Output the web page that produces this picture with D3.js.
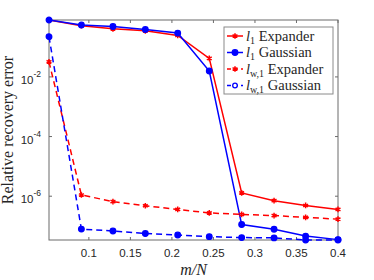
<!DOCTYPE html>
<html>
<head>
  <meta content="text/html;charset=utf-8" http-equiv="Content-Type">
  <title>Relative recovery error vs m/N</title>

  <style type="text/css">
    body { margin: 0; background: #fff; }
    #chart text { fill: #262626; }
    #chart .tick-label { font: 11.5px "Liberation Sans", Arial, sans-serif; }
    #chart .serif { font-family: "Liberation Serif", "Times New Roman", serif; }
  </style>

  <script src="https://cdnjs.cloudflare.com/ajax/libs/d3/7.6.1/d3.min.js"></script>
  <script>

    // m/N sample points
    var ratio = [0.052, 0.091, 0.129, 0.168, 0.207, 0.245, 0.284, 0.323, 0.361, 0.4];

    // relative recovery error for each method
    var l1Expander  = [0.81, 0.52, 0.41, 0.35, 0.245, 0.042, 1.29e-6, 7.1e-7, 4.9e-7, 3.6e-7];
    var l1Gaussian  = [0.81, 0.55, 0.49, 0.39, 0.295, 0.0158, 1.12e-7, 7.8e-8, 4.6e-8, 3.5e-8];
    var lw1Expander = [0.032, 1.1e-6, 6.6e-7, 4.8e-7, 3.6e-7, 2.75e-7, 2.45e-7, 2.24e-7, 1.95e-7, 1.7e-7];
    var lw1Gaussian = [0.224, 7.9e-8, 6.8e-8, 5.6e-8, 5.0e-8, 4.4e-8, 4.1e-8, 4.0e-8, 3.4e-8, 3.4e-8];

    var xTicks = [0.1, 0.15, 0.2, 0.25, 0.3, 0.35, 0.4];
    var yTicks = [1e-6, 1e-4, 1e-2];
    var yTickExp = ['-6', '-4', '-2'];

    var legendSub = ['1', '1', 'w,1', 'w,1'];
    var legendName = ['Expander', 'Gaussian', 'Expander', 'Gaussian'];

    var margin = {left: 49, top: 20, right: 36, bottom: 40};
    var tick_len = 3;

    function main() {

      var width = 374, height = 280;
      var w = width - margin.left - margin.right;
      var h = height - margin.top - margin.bottom;

      var allValues = l1Expander.concat(l1Gaussian, lw1Expander, lw1Gaussian);

      var x = d3.scaleLinear().
            domain([d3.min(ratio), d3.max(ratio)]).
            range([0, w]);

      var y = d3.scaleLog().
            domain([d3.min(allValues), d3.max(allValues)]).
            range([h, 0]);

      var svg = d3.select('#chart').
            attr('width', width).
            attr('height', height);

      var g = svg.append('g').
            attr('transform', 'translate(' + margin.left + ',' + margin.top + ')');

      // inward ticks on all four sides (box on)
      var axisColor = '#6b6b6b';
      xTicks.forEach(function(t) {
        g.append('line').attr('x1', x(t)).attr('x2', x(t)).attr('y1', h).attr('y2', h - tick_len).attr('stroke', axisColor);
        g.append('line').attr('x1', x(t)).attr('x2', x(t)).attr('y1', 0).attr('y2', tick_len).attr('stroke', axisColor);
        g.append('text').attr('class', 'tick-label').
          attr('x', x(t)).attr('y', h + 17).
          attr('text-anchor', 'middle').
          text(d3.format('')(t));
      });

      yTicks.forEach(function(t, i) {
        g.append('line').attr('x1', 0).attr('x2', tick_len).attr('y1', y(t)).attr('y2', y(t)).attr('stroke', axisColor);
        g.append('line').attr('x1', w).attr('x2', w - tick_len).attr('y1', y(t)).attr('y2', y(t)).attr('stroke', axisColor);
        var lab = g.append('text').attr('class', 'tick-label').
          attr('x', -8).attr('y', y(t) + 7).
          attr('text-anchor', 'end');
        lab.append('tspan').text('10');
        lab.append('tspan').attr('dy', -7).attr('font-size', '8.5px').text(yTickExp[i]);
      });

      g.append('rect').
        attr('width', w).attr('height', h).
        attr('fill', 'none').
        attr('stroke', axisColor);

      var series = [
        {values: l1Expander,  color: '#ff0000', dash: null,  marker: 'star'},
        {values: l1Gaussian,  color: '#0000ff', dash: null,  marker: 'dot'},
        {values: lw1Expander, color: '#ff0000', dash: '6,4', marker: 'star'},
        {values: lw1Gaussian, color: '#0000ff', dash: '6,4', marker: 'dot'}
      ];

      var line = d3.line().
            x(function(d, i) { return x(ratio[i]); }).
            y(function(d) { return y(d); });

      var starType = d3.symbolAsterisk || d3.symbolCross;
      var star = d3.symbol().type(starType).size(22);

      function drawMarker(sel, s, px, py, hollow) {
        if (s.marker === 'star') {
          sel.append('path').
            attr('d', star()).
            attr('transform', 'translate(' + px + ',' + py + ')').
            attr('fill', 'none').
            attr('stroke', s.color).
            attr('stroke-width', 1.5);
        } else {
          sel.append('circle').
            attr('cx', px).attr('cy', py).attr('r', hollow ? 2.3 : 2.8).
            attr('fill', hollow ? '#fff' : s.color).
            attr('stroke', s.color).
            attr('stroke-width', 1.3);
        }
      }

      series.forEach(function(s) {
        g.append('path').
          datum(s.values).
          attr('d', line).
          attr('fill', 'none').
          attr('stroke', s.color).
          attr('stroke-width', 1.5).
          attr('stroke-dasharray', s.dash);
        s.values.forEach(function(v, i) {
          drawMarker(g, s, x(ratio[i]), y(v), false);
        });
      });

      // axis labels
      svg.append('text').attr('class', 'serif').
        attr('transform', 'translate(13,' + (margin.top + h / 2) + ') rotate(-90)').
        attr('text-anchor', 'middle').
        attr('font-size', '16px').
        text('Relative recovery error');

      svg.append('text').attr('class', 'serif').
        attr('x', margin.left + w / 2).attr('y', 275).
        attr('text-anchor', 'middle').
        attr('font-size', '16px').
        attr('font-style', 'italic').
        text('m/N');

      // legend
      var lg = svg.append('g').attr('transform', 'translate(224,27)');
      lg.append('rect').
        attr('width', 109).attr('height', 67).
        attr('fill', '#fff').
        attr('stroke', '#8a8a8a');

      series.forEach(function(s, i) {
        var ry = 9 + i * 16.5;
        lg.append('line').
          attr('x1', 3).attr('x2', 19).attr('y1', ry).attr('y2', ry).
          attr('stroke', s.color).attr('stroke-width', 1.5).
          attr('stroke-dasharray', s.dash ? '4,3' : null);
        drawMarker(lg, s, 11, ry, i === 3);
        var t = lg.append('text').attr('class', 'serif').
          attr('x', 22).attr('y', ry + 4.5).
          attr('font-size', '14.5px');
        t.append('tspan').attr('font-style', 'italic').text('l');
        t.append('tspan').attr('dy', 3).attr('font-size', '10px').text(legendSub[i]);
        t.append('tspan').attr('dy', -3).text(' ' + legendName[i]);
      });
    }

  </script>
</head>
<body onload='main()'>

  <svg id="chart"></svg>

</body>
</html>
